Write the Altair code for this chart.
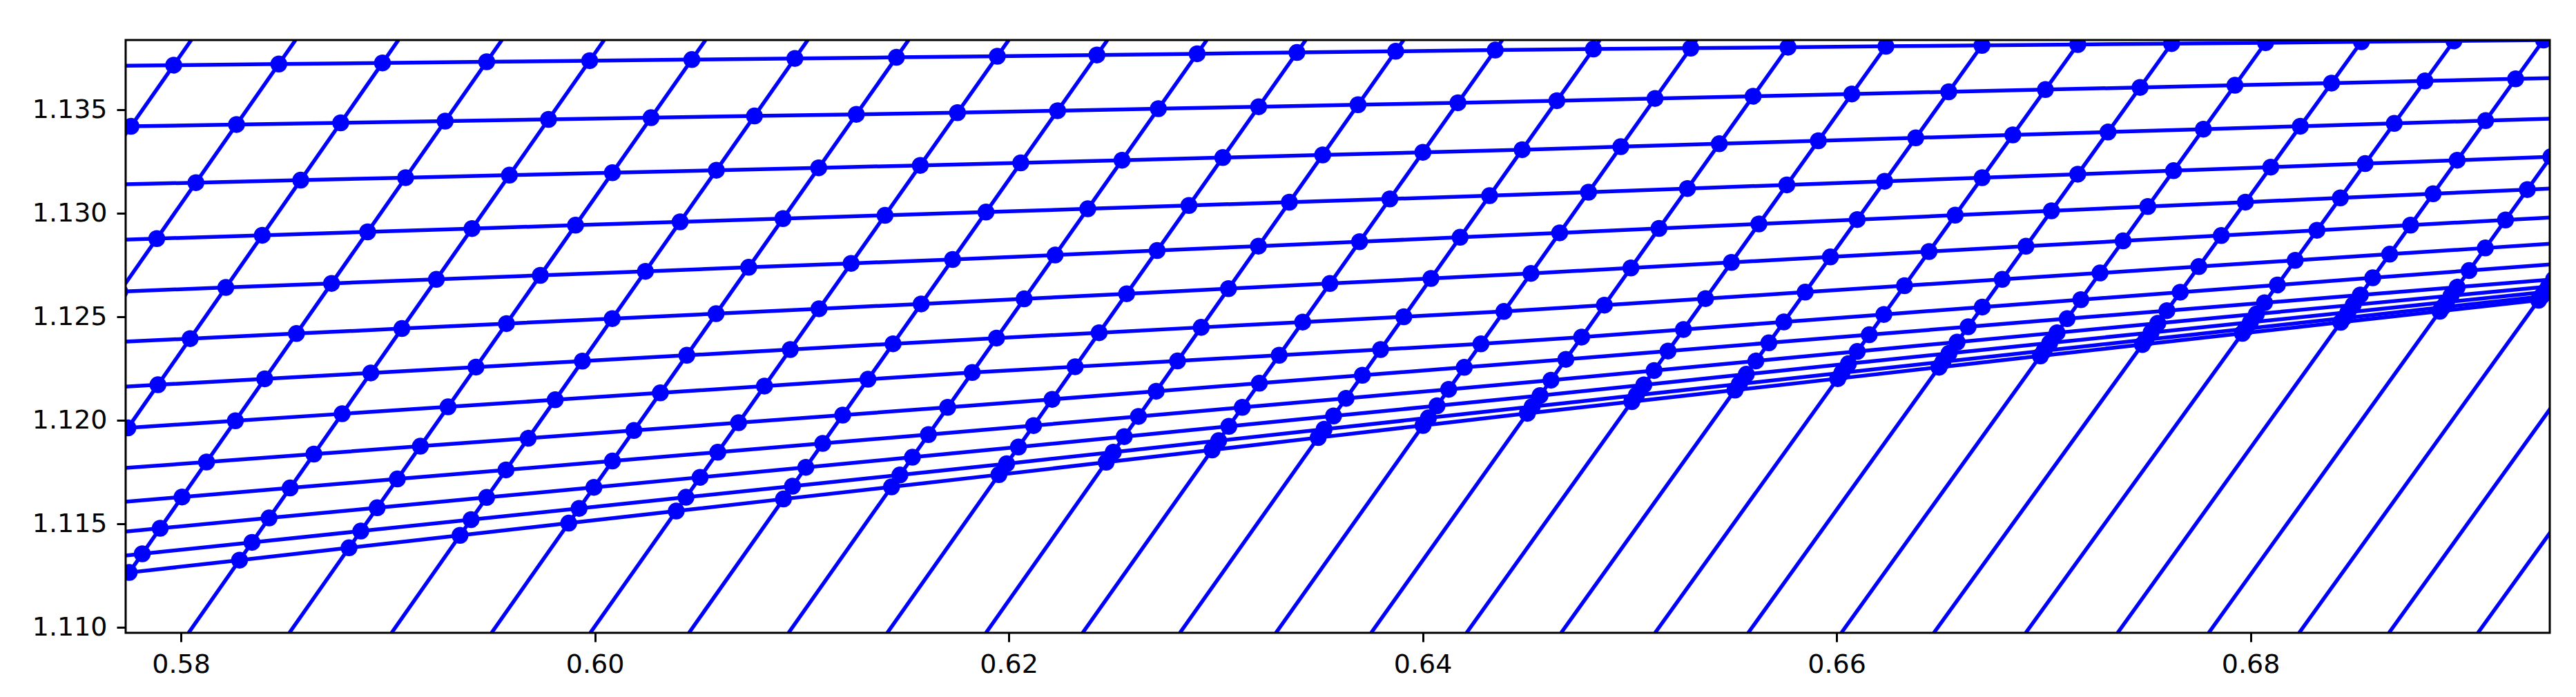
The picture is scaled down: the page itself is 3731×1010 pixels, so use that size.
import altair as alt
import numpy as np
import pandas as pd

# ---- axis limits and ticks ----
x_min, x_max = 0.57733, 0.69446
y_min, y_max = 1.10974, 1.13837
x_ticks = [0.58, 0.60, 0.62, 0.64, 0.66, 0.68]
y_ticks = [1.110, 1.115, 1.120, 1.125, 1.130, 1.135]

# ---- steep lines ("columns"): x where each meets the bottom and the top of the frame ----
col_x_bottom = [0.55541, 0.56048, 0.56552, 0.57053, 0.57546, 0.58037, 0.58524, 0.59018,
                0.59501, 0.59978, 0.60455, 0.60936, 0.61413, 0.61890, 0.62357, 0.62827,
                0.63291, 0.63751, 0.64212, 0.64669, 0.65123, 0.65573, 0.66023, 0.66470,
                0.66914, 0.67358, 0.67798, 0.68235, 0.68669, 0.69099]
col_x_top = [0.57543, 0.58050, 0.58554, 0.59051, 0.59551, 0.60045, 0.60535, 0.61029,
             0.61516, 0.62000, 0.62477, 0.62957, 0.63435, 0.63908, 0.64385, 0.64856,
             0.65323, 0.65790, 0.66260, 0.66721, 0.67181, 0.67631, 0.68082, 0.68542,
             0.68986, 0.69416, 0.69857, 0.70297, 0.70731, 0.71161]

# ---- flat lines ("rows"): y read at four x positions across the frame ----
row_sample_x = [0.5773, 0.6180, 0.6447, 0.6945]
row_y_left = [1.13713, 1.13420, 1.13140, 1.12873, 1.12623, 1.12380, 1.12163,
              1.11963, 1.11770, 1.11607, 1.11463, 1.11347, 1.11263]
row_y_q1 = [1.13757, 1.13487, 1.13237, 1.13003, 1.12780, 1.12573, 1.12390,
            1.12230, 1.12070, 1.11947, 1.11847, 1.11770, 1.11720]
row_y_q2 = [1.13790, 1.13540, 1.13307, 1.13090, 1.12897, 1.12707, 1.12530,
            1.12380, 1.12277, 1.12180, 1.12110, 1.12060, 1.12030]
row_y_right = [1.13837, 1.13653, 1.13457, 1.13273, 1.13120, 1.12980, 1.12853,
               1.12753, 1.12680, 1.12647, 1.12623, 1.12603, 1.12587]


def row_y(r, x):
    xs = row_sample_x
    ys = [row_y_left[r], row_y_q1[r], row_y_q2[r], row_y_right[r]]
    if x <= xs[0]:
        k = 0
    elif x >= xs[-1]:
        k = len(xs) - 2
    else:
        k = max(i for i in range(len(xs) - 1) if xs[i] <= x)
    t = (x - xs[k]) / (xs[k + 1] - xs[k])
    return ys[k] + t * (ys[k + 1] - ys[k])


# mesh nodes = crossings of the read row lines with the read column lines
node_rows = []
for r in range(len(row_y_left)):
    for c in range(len(col_x_bottom)):
        xb, xt = col_x_bottom[c], col_x_top[c]
        x = xb
        for _ in range(30):
            y = row_y(r, x)
            x = xb + (y - y_min) * (xt - xb) / (y_max - y_min)
        node_rows.append({"x": x, "y": row_y(r, x), "row": r, "col": c})
nodes = pd.DataFrame(node_rows)

col_rows = []
for c in range(len(col_x_bottom)):
    col_rows.append({"x": col_x_bottom[c], "y": y_min, "col": c, "k": 0})
    col_rows.append({"x": col_x_top[c], "y": y_max, "col": c, "k": 1})
cols = pd.DataFrame(col_rows)

BLUE = "#0000ff"
W, H = 3511, 859
xs = alt.Scale(domain=[x_min, x_max], nice=False, zero=False)
ys = alt.Scale(domain=[y_min, y_max], nice=False, zero=False)

x_axis = alt.Axis(values=x_ticks, format=".2f", title=None, grid=False, domain=False,
                  tickColor="black", tickWidth=3, tickSize=13, labelFontSize=38,
                  labelFont="DejaVu Sans", labelColor="black", labelPadding=14,
                  labelFlush=False)
y_axis = alt.Axis(values=y_ticks, format=".3f", title=None, grid=False, domain=False,
                  tickColor="black", tickWidth=3, tickSize=13, labelFontSize=38,
                  labelFont="DejaVu Sans", labelColor="black", labelPadding=14,
                  labelFlush=False)

col_lines = alt.Chart(cols).mark_line(color=BLUE, strokeWidth=5.5, clip=True).encode(
    x=alt.X("x:Q", scale=xs, axis=x_axis),
    y=alt.Y("y:Q", scale=ys, axis=y_axis),
    detail="col:N",
    order="k:Q",
)

row_lines = alt.Chart(nodes).mark_line(color=BLUE, strokeWidth=5.5, clip=True).encode(
    x=alt.X("x:Q", scale=xs),
    y=alt.Y("y:Q", scale=ys),
    detail="row:N",
    order="col:Q",
)

points = alt.Chart(nodes).mark_circle(color=BLUE, opacity=1, size=600, clip=True).encode(
    x=alt.X("x:Q", scale=xs),
    y=alt.Y("y:Q", scale=ys),
)

frame = alt.Chart(pd.DataFrame({"f": [0]})).mark_rect(
    fill=None, fillOpacity=0, stroke="black", strokeWidth=3
).encode(
    x=alt.value(0), x2=alt.value(W), y=alt.value(0), y2=alt.value(H)
)

chart = alt.layer(col_lines, row_lines, points, frame).properties(
    width=W,
    height=H,
    autosize=alt.AutoSizeParams(type="none"),
    padding={"left": 174, "top": 50, "right": 20, "bottom": 80},
).configure_view(strokeWidth=0).configure(background="white")

chart.save("out.html", embed_options={"renderer": "svg", "actions": False})
